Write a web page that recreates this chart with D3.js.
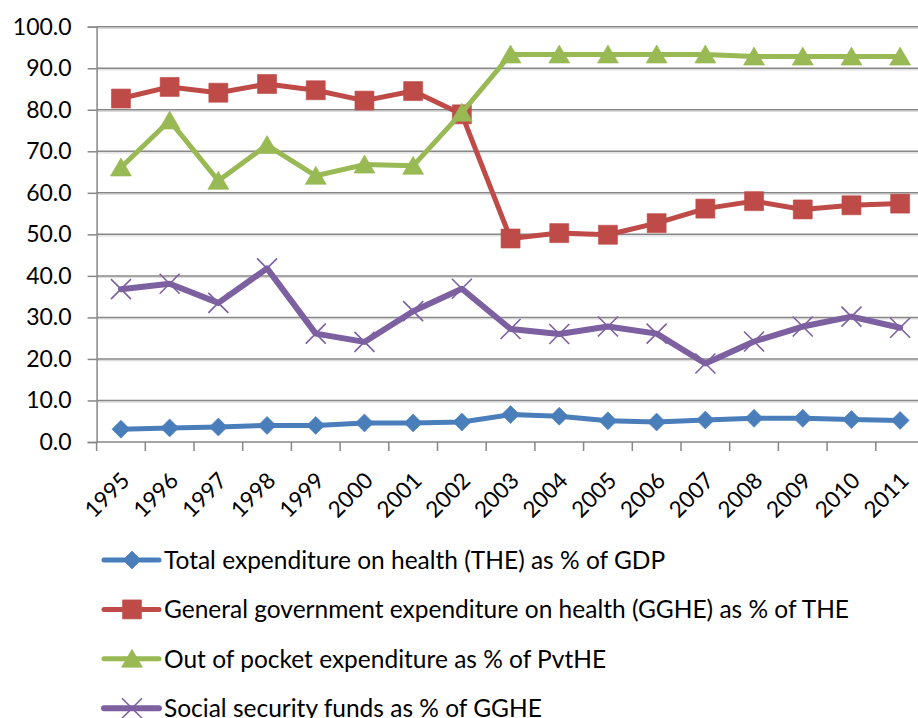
<!DOCTYPE html>
<html>
<head>
<meta charset="utf-8">
<script src="https://cdn.jsdelivr.net/npm/d3@7"></script>
<style>
    html, body { margin: 0; padding: 0; background: #ffffff; }
    svg { display: block; font-family: Lato, "Open Sans", sans-serif; }
</style>
</head>
<body>
<div id="chart"></div>
<script>
// chart data
var years = ["1995","1996","1997","1998","1999","2000","2001","2002","2003",
             "2004","2005","2006","2007","2008","2009","2010","2011"];
var theGdp = [3.1,3.4,3.6,4.0,4.0,4.6,4.6,4.8,6.6,6.2,5.1,4.8,5.3,5.7,5.7,5.4,5.2];
var ggheThe = [82.7,85.5,84.1,86.2,84.7,82.2,84.5,78.9,49.0,50.3,49.9,52.7,56.2,58.0,56.0,57.0,57.4];
var oopPvt = [66.1,77.4,62.9,71.5,64.1,66.8,66.5,79.3,93.3,93.3,93.3,93.3,93.3,92.8,92.8,92.8,92.8];
var ssfGghe = [36.8,38.1,33.5,41.8,26.1,24.1,31.5,36.9,27.2,26.0,27.8,26.1,18.9,24.2,27.8,30.2,27.5];
var yTicks = [0,10,20,30,40,50,60,70,80,90,100];
var seriesNames = [
    "Total expenditure on health (THE) as % of GDP",
    "General government expenditure on health (GGHE) as % of THE",
    "Out of pocket expenditure as % of PvtHE",
    "Social security funds as % of GGHE"
];

!function() {
    var width = 918, height = 718;
    var left = 96.6, top = 26.7, bottom = 442,
        band = 48.7;   // plot runs past the right edge, like the cropped original
    var gridColor = "#878787";

    var series = [
        {name: seriesNames[0], values: theGdp,  color: "#4A7EBB", marker: "diamond",  lw: 5},
        {name: seriesNames[1], values: ggheThe, color: "#BE4B48", marker: "square",   lw: 5},
        {name: seriesNames[2], values: oopPvt,  color: "#98B954", marker: "triangle", lw: 5},
        {name: seriesNames[3], values: ssfGghe, color: "#7D60A0", marker: "cross",    lw: 6}
    ];

    var svg = d3.select("#chart").append("svg")
        .attr("width", width).attr("height", height)
        .style("overflow", "hidden");

    var x = d3.scaleBand().domain(years).range([left, left + band * years.length]);
    var y = d3.scaleLinear().domain([0, 100]).range([bottom, top]);
    var cx = function(i) { return x(years[i]) + x.bandwidth() / 2; };

    // horizontal gridlines
    var grid = svg.append("g");
    grid.selectAll("line.shadow").data(yTicks.slice(1)).enter().append("line")
        .attr("class", "shadow")
        .attr("x1", left).attr("x2", width)
        .attr("y1", function(d) { return y(d) + 1.6; })
        .attr("y2", function(d) { return y(d) + 1.6; })
        .attr("stroke", "#dcdcdc").attr("stroke-width", 1.2);
    grid.selectAll("line.main").data(yTicks.slice(1)).enter().append("line")
        .attr("class", "main")
        .attr("x1", left).attr("x2", width)
        .attr("y1", function(d) { return y(d); })
        .attr("y2", function(d) { return y(d); })
        .attr("stroke", gridColor).attr("stroke-width", 1.5);

    // y axis
    var yAxis = svg.append("g")
        .attr("transform", "translate(" + left + ",0)")
        .call(d3.axisLeft(y).tickValues(yTicks).tickFormat(d3.format(".1f"))
            .tickSize(9).tickPadding(16));
    yAxis.select(".domain").attr("stroke", gridColor).attr("stroke-width", 1.5);
    yAxis.selectAll(".tick line").attr("stroke", gridColor).attr("stroke-width", 1.5);
    yAxis.selectAll(".tick text").attr("fill", "#000").attr("font-size", 23)
        .attr("font-family", "Lato, sans-serif");

    // x axis: ticks sit on the category boundaries
    var xAxis = svg.append("g").attr("transform", "translate(0," + bottom + ")");
    xAxis.append("line")
        .attr("x1", left).attr("x2", width).attr("y1", 0).attr("y2", 0)
        .attr("stroke", gridColor).attr("stroke-width", 1.5);
    xAxis.selectAll("line.tk").data(years).enter().append("line")
        .attr("class", "tk")
        .attr("x1", function(d) { return x(d); }).attr("x2", function(d) { return x(d); })
        .attr("y1", 0).attr("y2", 9)
        .attr("stroke", gridColor).attr("stroke-width", 1.5);
    xAxis.selectAll("text").data(years).enter().append("text")
        .attr("transform", function(d, i) {
            return "translate(" + (cx(i) + 10) + ",40) rotate(-45)";
        })
        .attr("text-anchor", "end")
        .attr("font-size", 22.5)
        .text(function(d) { return d; });

    // marker shapes, centred on 0,0
    function markerPath(type) {
        if (type == "diamond") return "M0,-9 L9,0 L0,9 L-9,0 Z";
        if (type == "square") return "M-9.5,-9.5 L9.5,-9.5 L9.5,9.5 L-9.5,9.5 Z";
        if (type == "triangle") return "M0,-9.5 L10.5,8.5 L-10.5,8.5 Z";
        return "M-10,-10 L10,10 M-10,10 L10,-10";
    }
    function drawMarker(g, s) {
        var m = g.append("path").attr("d", markerPath(s.marker));
        if (s.marker == "cross") {
            m.attr("fill", "none").attr("stroke", s.color).attr("stroke-width", 1.6);
        } else {
            m.attr("fill", s.color).attr("stroke", s.color).attr("stroke-opacity", 0.6)
                .attr("stroke-width", 1);
        }
    }

    var line = d3.line()
        .x(function(d, i) { return cx(i); })
        .y(function(d) { return y(d); });

    series.forEach(function(s) {
        var g = svg.append("g");
        g.append("path").datum(s.values)
            .attr("d", line)
            .attr("fill", "none")
            .attr("stroke", s.color)
            .attr("stroke-width", s.lw)
            .attr("stroke-linejoin", "round")
            .attr("stroke-linecap", "round");
        g.selectAll("g.pt").data(s.values).enter().append("g")
            .attr("class", "pt")
            .attr("transform", function(d, i) { return "translate(" + cx(i) + "," + y(d) + ")"; })
            .each(function() { drawMarker(d3.select(this), s); });
    });

    // legend
    var legendTop = 560, legendGap = 49.4;
    var legend = svg.append("g");
    var rows = legend.selectAll("g").data(series).enter().append("g")
        .attr("transform", function(d, i) { return "translate(0," + (legendTop + i * legendGap) + ")"; });
    rows.append("line")
        .attr("x1", 104).attr("x2", 159).attr("y1", 0).attr("y2", 0)
        .attr("stroke", function(d) { return d.color; })
        .attr("stroke-width", function(d) { return d.lw; })
        .attr("stroke-linecap", "round");
    rows.append("g").attr("transform", "translate(132,0)")
        .each(function(d) { drawMarker(d3.select(this), d); });
    rows.append("text")
        .attr("x", 164).attr("y", 9)
        .attr("font-size", 24.5)
        .attr("fill", "#000")
        .text(function(d) { return d.name; });
}();
</script>
</body>
</html>
